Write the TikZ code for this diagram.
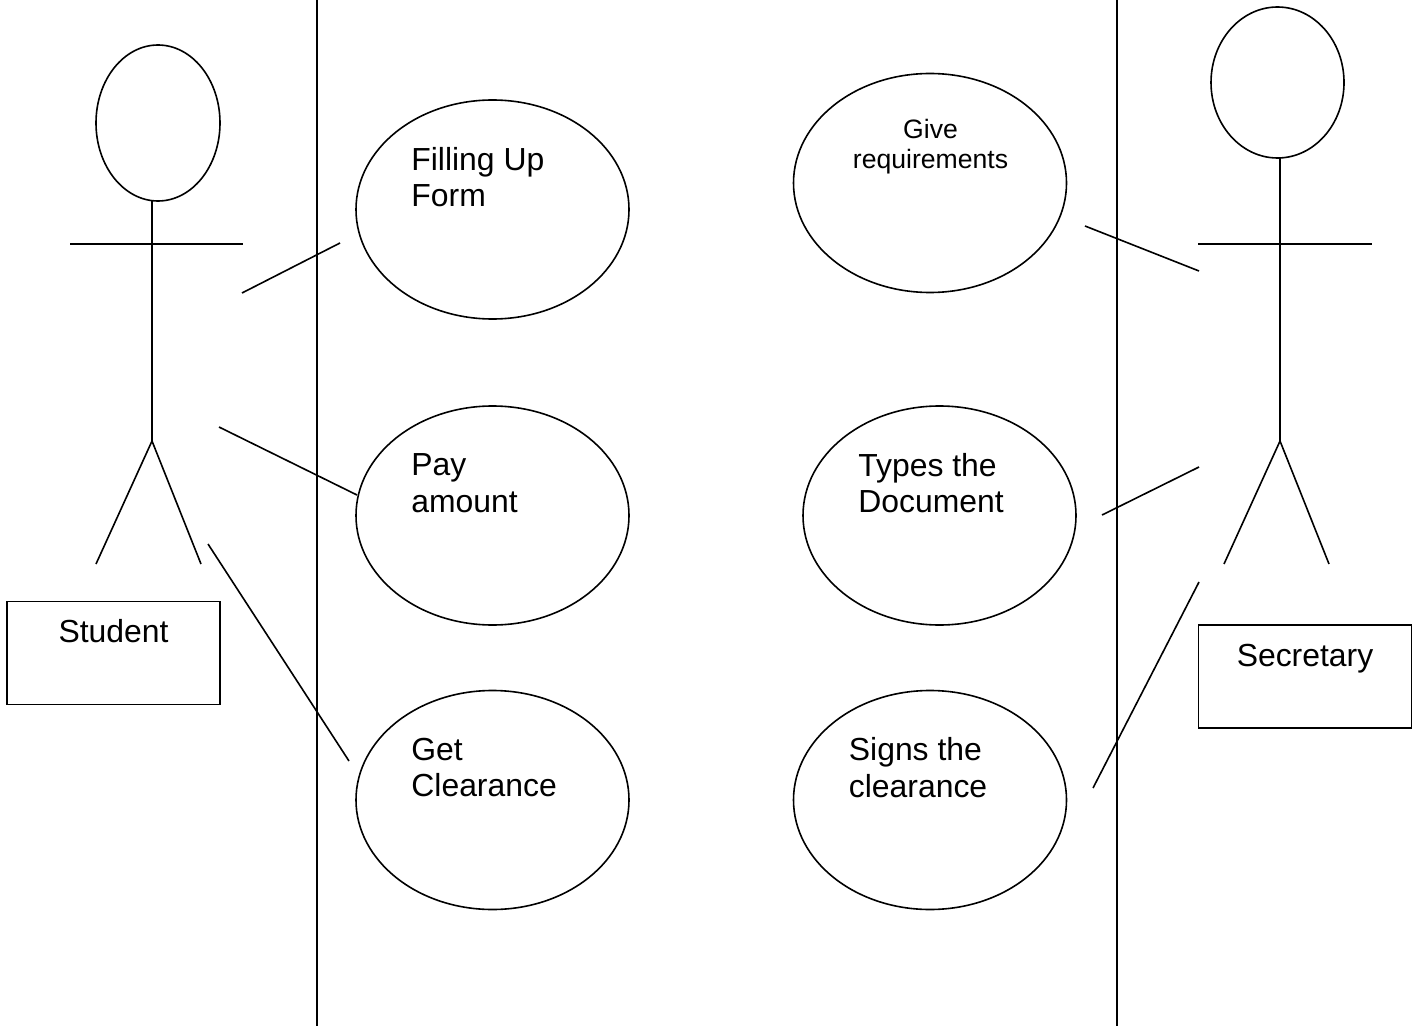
\documentclass[tikz,border=0pt]{standalone}
\usepackage{fontspec}
\setmainfont{Liberation Sans}
\usetikzlibrary{shapes.geometric}
\tikzset{
  ln/.style={draw=black,line width=0.8pt},
  usecase/.style={ellipse,ln,inner sep=0pt,minimum width=136.5pt,minimum height=109.5pt},
  head/.style={ellipse,ln,inner sep=0pt},
  box/.style={rectangle,ln,inner sep=0pt},
  lab/.style={anchor=north west,inner sep=0pt,align=left,font=\fontsize{15.95pt}{18.3pt}\selectfont},
  smalllab/.style={anchor=north,inner sep=0pt,align=center,font=\fontsize{13.3pt}{15pt}\selectfont},
  boxlab/.style={anchor=north,inner sep=0pt,font=\fontsize{15.95pt}{18.3pt}\selectfont}
}
\begin{document}
\begin{tikzpicture}[x=0.5pt,y=-0.5pt]
\useasboundingbox[fill=white] (0,0) rectangle (1422,1026);
% swimlane separators
\coordinate (l1t) at (317,0); \coordinate (l1b) at (317,1026);
\coordinate (l2t) at (1117,0); \coordinate (l2b) at (1117,1026);
\draw[ln] (l1t) -- (l1b);
\draw[ln] (l2t) -- (l2b);
% use cases
\node[usecase] (fill) at (492.5,209.5) {};
\node[usecase] (pay) at (492.5,515.5) {};
\node[usecase] (get) at (492.5,800) {};
\node[usecase] (give) at (930,183) {};
\node[usecase] (types) at (939.5,515.5) {};
\node[usecase] (signs) at (930,800) {};
\node[lab] (tfill) at (411,146.5) {Filling Up\\Form};
\node[lab] (tpay) at (411,453.5) {Pay\\amount};
\node[lab] (tget) at (411,737.5) {Get\\Clearance};
\node[smalllab] (tgive) at (930.5,118.5) {Give\\requirements};
\node[lab] (ttypes) at (858,452.5) {Types the\\Document};
\node[lab] (tsigns) at (848.5,737) {Signs the\\clearance};
% student actor
\node[head,minimum width=62pt,minimum height=78pt] (shead) at (158,123) {};
\coordinate (sneck) at (152,201);
\coordinate (ship) at (152,441);
\coordinate (sarmL) at (70,244); \coordinate (sarmR) at (243,244);
\coordinate (sfootL) at (96,564); \coordinate (sfootR) at (201,564);
\draw[ln] (sneck) -- (ship);
\draw[ln] (sarmL) -- (sarmR);
\draw[ln] (sfootL) -- (ship) -- (sfootR);
\node[box,minimum width=106.5pt,minimum height=51.5pt] (sbox) at (113.5,653) {};
\node[boxlab] (tstudent) at (113.5,619) {Student};
% secretary actor
\node[head,minimum width=66.5pt,minimum height=75.5pt] (thead) at (1277.5,82.5) {};
\coordinate (tneck) at (1280,158);
\coordinate (thip) at (1280,441);
\coordinate (tarmL) at (1198,244); \coordinate (tarmR) at (1372,244);
\coordinate (tfootL) at (1224,564); \coordinate (tfootR) at (1329,564);
\draw[ln] (tneck) -- (thip);
\draw[ln] (tarmL) -- (tarmR);
\draw[ln] (tfootL) -- (thip) -- (tfootR);
\node[box,minimum width=106.5pt,minimum height=51.5pt] (tbox) at (1305,676.5) {};
\node[boxlab] (tsec) at (1305,644) {Secretary};
% associations
\coordinate (a1) at (242,293); \coordinate (a2) at (340,243);
\coordinate (b1) at (219,427); \coordinate (b2) at (357,495);
\coordinate (c1) at (208,544); \coordinate (c2) at (349,761);
\coordinate (d1) at (1085,226); \coordinate (d2) at (1199,271);
\coordinate (e1) at (1102,515); \coordinate (e2) at (1199,467);
\coordinate (f1) at (1093,788); \coordinate (f2) at (1199,582);
\draw[ln] (a1) -- (a2);
\draw[ln] (b1) -- (b2);
\draw[ln] (c1) -- (c2);
\draw[ln] (d1) -- (d2);
\draw[ln] (e1) -- (e2);
\draw[ln] (f1) -- (f2);
\end{tikzpicture}
\end{document}
